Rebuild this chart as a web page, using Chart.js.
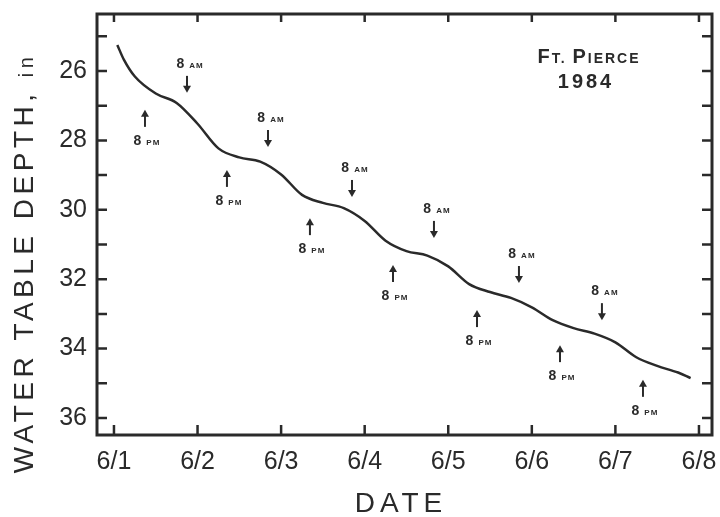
<!DOCTYPE html>
<html>
<head>
<meta charset="utf-8">
<script src="https://cdn.jsdelivr.net/npm/chart.js@4.4.1/dist/chart.umd.min.js"></script>
<style>
  html, body { margin: 0; padding: 0; background: #fff; }
  canvas { display: block; }
</style>
</head>
<body>
<canvas id="depth-chart" width="720" height="517"></canvas>
<script>
// water table trace: days after 6/1 00:00 vs depth (in)
const days = [0.04, 0.12, 0.25, 0.5, 0.75, 1.0, 1.25, 1.5, 1.75, 2.0, 2.25, 2.5, 2.75, 3.0, 3.25, 3.5, 3.75,
              4.0, 4.25, 4.5, 4.75, 5.0, 5.25, 5.5, 5.75, 6.0, 6.25, 6.5, 6.75, 6.9];
const depths = [25.25, 25.68, 26.16, 26.65, 26.92, 27.52, 28.23, 28.49, 28.61, 28.98, 29.57, 29.80, 29.95,
                30.32, 30.89, 31.19, 31.32, 31.63, 32.14, 32.37, 32.54, 32.81, 33.18, 33.41, 33.57, 33.82,
                34.25, 34.50, 34.69, 34.85];

const dateLabels = ['6/1', '6/2', '6/3', '6/4', '6/5', '6/6', '6/7', '6/8'];
const depthTicks = [26, 28, 30, 32, 34, 36];

// 8 PM / 8 AM markers: day and depth at the arrow point
const pmDays = [0.371, 1.352, 2.345, 3.339, 4.344, 5.337, 6.330];
const pmDepths = [27.12, 28.85, 30.24, 31.59, 32.89, 33.90, 34.90];
const amDays = [0.874, 1.843, 2.848, 3.829, 4.846, 5.839];
const amDepths = [26.63, 28.19, 29.63, 30.81, 32.11, 33.18];

const ink = '#2a2a2a';
const FONT = '"Liberation Sans", Arial, sans-serif';

function arrow(ctx, x, yTip, dir) {
    // dir = 1 -> pointing down, -1 -> pointing up
    const len = 17;
    const yTail = yTip - dir * len;
    ctx.beginPath();
    ctx.moveTo(x, yTail);
    ctx.lineTo(x, yTip - dir * 5);
    ctx.stroke();
    ctx.beginPath();
    ctx.moveTo(x, yTip);
    ctx.lineTo(x - 4, yTip - dir * 7);
    ctx.lineTo(x + 4, yTip - dir * 7);
    ctx.closePath();
    ctx.fill();
}

function timeLabel(ctx, cx, cy, word) {
    ctx.textBaseline = 'alphabetic';
    ctx.textAlign = 'left';
    ctx.font = 'bold 14px ' + FONT;
    const w8 = ctx.measureText('8').width;
    ctx.font = 'bold 8px ' + FONT;
    ctx.letterSpacing = '1px';
    const ww = ctx.measureText(word).width;
    const gap = 5;
    const x0 = cx - (w8 + gap + ww) / 2;
    const base = cy + 5;
    ctx.letterSpacing = '0px';
    ctx.font = 'bold 14px ' + FONT;
    ctx.fillText('8', x0, base);
    ctx.font = 'bold 8px ' + FONT;
    ctx.letterSpacing = '1px';
    ctx.fillText(word, x0 + w8 + gap, base);
    ctx.letterSpacing = '0px';
}

function drawRuns(ctx, runs, x, y, spacing) {
    // runs: [[text, size, weight], ...] drawn left to right, centred on x
    let total = 0;
    ctx.letterSpacing = spacing + 'px';
    runs.forEach(r => { ctx.font = r[2] + ' ' + r[1] + 'px ' + FONT; total += ctx.measureText(r[0]).width; });
    let cur = x - total / 2;
    ctx.textAlign = 'left';
    ctx.textBaseline = 'alphabetic';
    runs.forEach(r => {
        ctx.font = r[2] + ' ' + r[1] + 'px ' + FONT;
        ctx.fillText(r[0], cur, y);
        cur += ctx.measureText(r[0]).width;
    });
    ctx.letterSpacing = '0px';
}

const framePlugin = {
    id: 'frame',
    afterDraw(chart) {
        const ctx = chart.ctx;
        const a = chart.chartArea;
        const xs = chart.scales.x;
        const ys = chart.scales.y;
        ctx.save();
        ctx.strokeStyle = ink;
        ctx.fillStyle = ink;
        ctx.lineWidth = 3;
        ctx.strokeRect(a.left, a.top, a.right - a.left, a.bottom - a.top);

        // inward ticks
        ctx.lineWidth = 2.5;
        ctx.beginPath();
        dateLabels.forEach((_, i) => {
            const x = xs.getPixelForValue(i);
            ctx.moveTo(x, a.bottom); ctx.lineTo(x, a.bottom - 10);
            ctx.moveTo(x, a.top); ctx.lineTo(x, a.top + 8);
        });
        for (let d = 25; d <= 36; d++) {
            const y = ys.getPixelForValue(d);
            ctx.moveTo(a.left, y); ctx.lineTo(a.left + 10, y);
            ctx.moveTo(a.right, y); ctx.lineTo(a.right - 10, y);
        }
        ctx.stroke();

        // 8 PM / 8 AM markers
        ctx.lineWidth = 2;
        pmDays.forEach((d, i) => {
            const x = xs.getPixelForValue(d);
            const y = ys.getPixelForValue(pmDepths[i]);
            arrow(ctx, x, y, -1);
            timeLabel(ctx, x + 2, y + 30, 'PM');
        });
        amDays.forEach((d, i) => {
            const x = xs.getPixelForValue(d);
            const y = ys.getPixelForValue(amDepths[i]);
            arrow(ctx, x, y, 1);
            timeLabel(ctx, x + 3, y - 30, 'AM');
        });

        // site label
        drawRuns(ctx, [['F', 20, 'bold'], ['T. ', 14, 'bold'], ['P', 20, 'bold'], ['IERCE', 14, 'bold']], 589, 63, 2);
        drawRuns(ctx, [['1984', 20, 'bold']], 586, 88, 3);

        // axis titles
        drawRuns(ctx, [['DATE', 28, 'normal']], 401, 512, 5);
        ctx.translate(33, 263);
        ctx.rotate(-Math.PI / 2);
        drawRuns(ctx, [['WATER TABLE DEPTH, ', 28, 'normal'], ['in', 20, 'normal']], 0, 0, 4.5);
        ctx.restore();
    }
};

const noPad = s => { s.paddingTop = 0; s.paddingBottom = 0; s.paddingLeft = 0; s.paddingRight = 0; };

const ctx = document.getElementById('depth-chart').getContext('2d');
new Chart(ctx, {
    type: 'line',
    data: {
        datasets: [{
            data: days.map((d, i) => ({ x: d, y: depths[i] })),
            borderColor: ink,
            borderWidth: 2.5,
            pointRadius: 0,
            fill: false,
            cubicInterpolationMode: 'monotone'
        }]
    },
    options: {
        responsive: false,
        animation: false,
        layout: { padding: { top: 14, right: 8, left: 0, bottom: 0 } },
        plugins: { legend: { display: false }, tooltip: { enabled: false } },
        scales: {
            x: {
                type: 'linear',
                min: -0.203,
                max: 7.156,
                grid: { display: false, drawTicks: false },
                border: { display: false },
                afterBuildTicks: s => { s.ticks = dateLabels.map((_, i) => ({ value: i })); },
                afterFit: s => { s.height = 82; noPad(s); },
                ticks: {
                    autoSkip: false,
                    maxRotation: 0,
                    padding: 12,
                    color: ink,
                    font: { family: FONT, size: 25 },
                    callback: (v, i) => dateLabels[i]
                }
            },
            y: {
                type: 'linear',
                reverse: true,
                min: 24.357,
                max: 36.49,
                grid: { display: false, drawTicks: false },
                border: { display: false },
                afterBuildTicks: s => { s.ticks = depthTicks.map(v => ({ value: v })); },
                afterFit: s => { s.width = 97; noPad(s); },
                ticks: {
                    padding: 10,
                    color: ink,
                    font: { family: FONT, size: 25 }
                }
            }
        }
    },
    plugins: [framePlugin]
});
</script>
</body>
</html>
